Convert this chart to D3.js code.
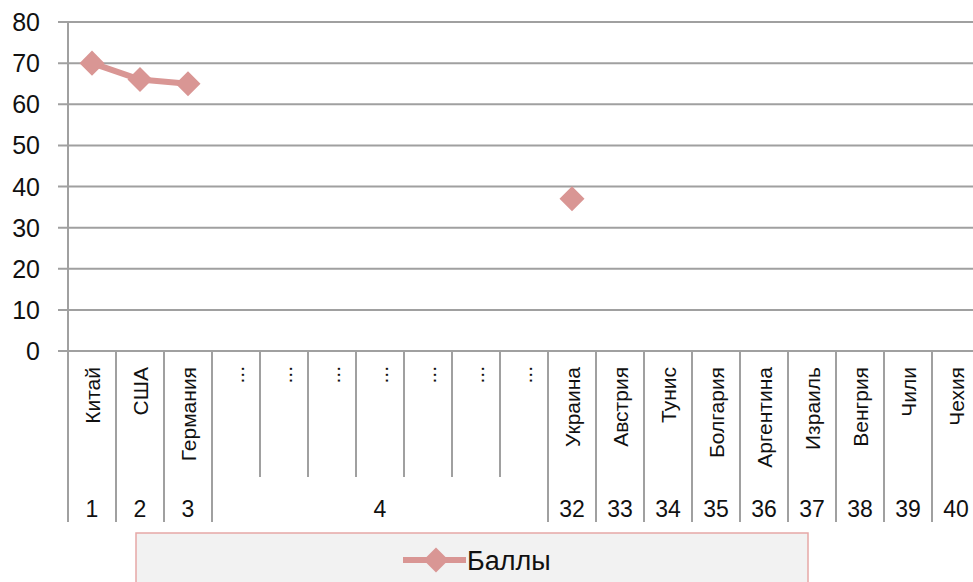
<!DOCTYPE html>
<html>
<head>
<meta charset="utf-8">
<script src="https://cdn.jsdelivr.net/npm/d3@7"></script>
<style>
  body { margin: 0; background: #fff; }
  svg { display: block; font-family: "Liberation Sans", Arial, sans-serif; }
</style>
</head>
<body>
<div id="chart"></div>
<script>
// Data
let countries = ['Китай', 'США', 'Германия', '...', '...', '...', '...', '...', '...', '...',
	'Украина', 'Австрия', 'Тунис', 'Болгария', 'Аргентина', 'Израиль', 'Венгрия', 'Чили', 'Чехия'];
let places = ['1', '2', '3', '4', '32', '33', '34', '35', '36', '37', '38', '39', '40'];
let placeSpans = [1, 1, 1, 7, 1, 1, 1, 1, 1, 1, 1, 1, 1];
let scores = [70, 66, 65, null, null, null, null, null, null, null, 37, null, null, null, null, null, null, null, null];
let yTicks = [0, 10, 20, 30, 40, 50, 60, 70, 80];
let seriesName = 'Баллы';

let width = 973;
let height = 582;
let plotLeft = 68;
let plotTop = 22;
let plotBottom = 351;
let band = 48;
let color = '#d99694';
let gridColor = '#a0a0a0';
let textColor = '#111';

let svg = d3.select('#chart')
		.append('svg')
		.attr('width', width)
		.attr('height', height);

// Scales
let xScale = d3.scaleBand()
		.domain(d3.range(countries.length))
		.range([plotLeft, plotLeft + band * countries.length])
		.padding(0);

let yScale = d3.scaleLinear()
		.domain([0, 80])
		.range([plotBottom, plotTop]);

// Horizontal grid lines + y tick marks
svg.append('g')
		.selectAll('line')
		.data(yTicks)
		.enter()
		.append('line')
		.attr('x1', plotLeft - 10)
		.attr('x2', width)
		.attr('y1', d => yScale(d))
		.attr('y2', d => yScale(d))
		.attr('stroke', gridColor)
		.attr('stroke-width', 2);

// Y axis line
svg.append('line')
		.attr('x1', plotLeft).attr('x2', plotLeft)
		.attr('y1', plotTop).attr('y2', plotBottom)
		.attr('stroke', gridColor)
		.attr('stroke-width', 2);

// Y labels
svg.append('g')
		.selectAll('text')
		.data(yTicks)
		.enter()
		.append('text')
		.attr('x', 40)
		.attr('y', d => yScale(d) + 9)
		.attr('text-anchor', 'end')
		.attr('font-size', 25)
		.attr('fill', textColor)
		.text(d => d);

// Category separators: group borders go long, inner ones short
let groupEdges = [0];
placeSpans.forEach(n => groupEdges.push(groupEdges[groupEdges.length - 1] + n));
let edges = d3.range(countries.length + 1);

svg.append('g')
		.selectAll('line')
		.data(edges)
		.enter()
		.append('line')
		.attr('x1', d => plotLeft + d * xScale.bandwidth())
		.attr('x2', d => plotLeft + d * xScale.bandwidth())
		.attr('y1', plotBottom)
		.attr('y2', d => groupEdges.includes(d) ? 522 : 477)
		.attr('stroke', gridColor)
		.attr('stroke-width', 2);

// Country labels (rotated)
svg.append('g')
		.selectAll('text')
		.data(countries)
		.enter()
		.append('text')
		.attr('transform', (d, i) => `translate(${xScale(i) + xScale.bandwidth() / 2 + 8}, ${d === '...' ? 366 : 367}) rotate(-90)`)
		.attr('text-anchor', 'end')
		.attr('font-size', 21)
		.attr('fill', textColor)
		.text(d => d);

// Place labels (second level)
svg.append('g')
		.selectAll('text')
		.data(places)
		.enter()
		.append('text')
		.attr('x', (d, i) => plotLeft + (groupEdges[i] + placeSpans[i] / 2) * xScale.bandwidth())
		.attr('y', 517)
		.attr('text-anchor', 'middle')
		.attr('font-size', 23)
		.attr('fill', textColor)
		.text(d => d);

// Series line
let points = scores.map((v, i) => [i, v]);
let line = d3.line()
		.defined(d => d[1] !== null)
		.x(d => xScale(d[0]) + xScale.bandwidth() / 2)
		.y(d => yScale(d[1]));

svg.append('path')
		.datum(points)
		.attr('d', line)
		.attr('fill', 'none')
		.attr('stroke', color)
		.attr('stroke-width', 6)
		.attr('stroke-linejoin', 'round');

let diamond = d3.symbol().type(d3.symbolDiamond2).size(400);

svg.append('g')
		.selectAll('path')
		.data(points.filter(d => d[1] !== null))
		.enter()
		.append('path')
		.attr('transform', d => `translate(${xScale(d[0]) + xScale.bandwidth() / 2}, ${yScale(d[1])})`)
		.attr('d', diamond)
		.attr('fill', color);

// Legend
let legend = svg.append('g');
legend.append('rect')
		.attr('x', 136)
		.attr('y', 533)
		.attr('width', 672)
		.attr('height', 70)
		.attr('fill', '#f2f2f2')
		.attr('stroke', '#e6a8a6')
		.attr('stroke-width', 1.5);
legend.append('line')
		.attr('x1', 403).attr('x2', 466)
		.attr('y1', 560).attr('y2', 560)
		.attr('stroke', color)
		.attr('stroke-width', 6);
legend.append('path')
		.attr('transform', 'translate(436, 560)')
		.attr('d', diamond)
		.attr('fill', color);
legend.append('text')
		.attr('x', 467)
		.attr('y', 570)
		.attr('font-size', 27)
		.attr('fill', textColor)
		.text(seriesName);
</script>
</body>
</html>
